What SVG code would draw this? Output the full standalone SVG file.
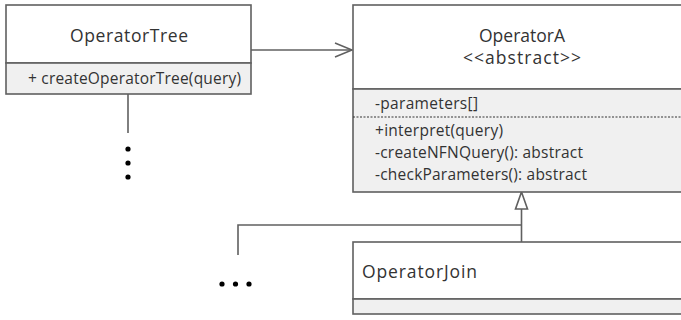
<svg xmlns="http://www.w3.org/2000/svg" width="681" height="320" viewBox="0 0 681 320">
<style>
.box{fill:#ffffff;stroke:#606060;stroke-width:1.6}
.comp{fill:#f0f0f0;stroke:#606060;stroke-width:1.6}
.ln{fill:none;stroke:#606060;stroke-width:1.6}
.title{font-family:"Open Sans","Noto Sans",sans-serif;font-size:17.5px;fill:#333333}
.txt{font-family:"Open Sans","Noto Sans",sans-serif;font-size:15.5px;fill:#333333}
.dot{fill:#000000}
</style>
<defs>
<marker id="open" markerWidth="20" markerHeight="16" refX="18" refY="8" orient="auto" markerUnits="userSpaceOnUse">
<path d="M1,1 L18,8 L1,15" fill="none" stroke="#606060" stroke-width="1.6"/>
</marker>
</defs>
<g id="connectors">
<line class="ln" x1="251" y1="50" x2="352" y2="50" marker-end="url(#open)"/>
<line class="ln" x1="128" y1="94" x2="128" y2="133"/>
<line class="ln" x1="521.5" y1="209" x2="521.5" y2="242"/>
<polyline class="ln" points="521.5,225 238,225 238,255"/>
<path d="M521.5,192 L527.5,209 L515.5,209 Z" fill="#ffffff" stroke="#606060" stroke-width="1.6"/>
</g>
<g id="OperatorTree">
<rect class="box" x="6" y="5" width="245" height="58"/>
<rect class="comp" x="6" y="63" width="245" height="31"/>
<text class="title" x="129" y="42" text-anchor="middle" textLength="118" lengthAdjust="spacing">OperatorTree</text>
<text class="txt" x="28" y="84" textLength="213" lengthAdjust="spacing">+ createOperatorTree(query)</text>
</g>
<g id="OperatorTreeDots">
<circle class="dot" cx="128" cy="149" r="2.6"/>
<circle class="dot" cx="128" cy="163" r="2.6"/>
<circle class="dot" cx="128" cy="177" r="2.6"/>
</g>
<g id="OperatorA">
<rect class="box" x="353" y="5" width="340" height="84"/>
<rect class="comp" x="353" y="89" width="340" height="103"/>
<line x1="353" y1="117" x2="693" y2="117" stroke="#333333" stroke-width="1.2" stroke-dasharray="2,1.5"/>
<text class="title" x="522" y="42" text-anchor="middle">OperatorA</text>
<text class="title" x="522" y="64" text-anchor="middle" textLength="118" lengthAdjust="spacing">&lt;&lt;abstract&gt;&gt;</text>
<text class="txt" x="375" y="109" textLength="103" lengthAdjust="spacing">-parameters[]</text>
<text class="txt" x="375" y="136" textLength="128" lengthAdjust="spacing">+interpret(query)</text>
<text class="txt" x="375" y="158" textLength="208" lengthAdjust="spacing">-createNFNQuery(): abstract</text>
<text class="txt" x="375" y="180" textLength="212" lengthAdjust="spacing">-checkParameters(): abstract</text>
</g>
<g id="OperatorJoin">
<rect class="box" x="353" y="242" width="340" height="57"/>
<rect class="comp" x="353" y="299" width="340" height="15"/>
<text class="title" x="362" y="278" textLength="115" lengthAdjust="spacing">OperatorJoin</text>
</g>
<g id="MoreDots">
<circle class="dot" cx="222" cy="284" r="2.6"/>
<circle class="dot" cx="235.5" cy="284" r="2.6"/>
<circle class="dot" cx="249" cy="284" r="2.6"/>
</g>
</svg>
